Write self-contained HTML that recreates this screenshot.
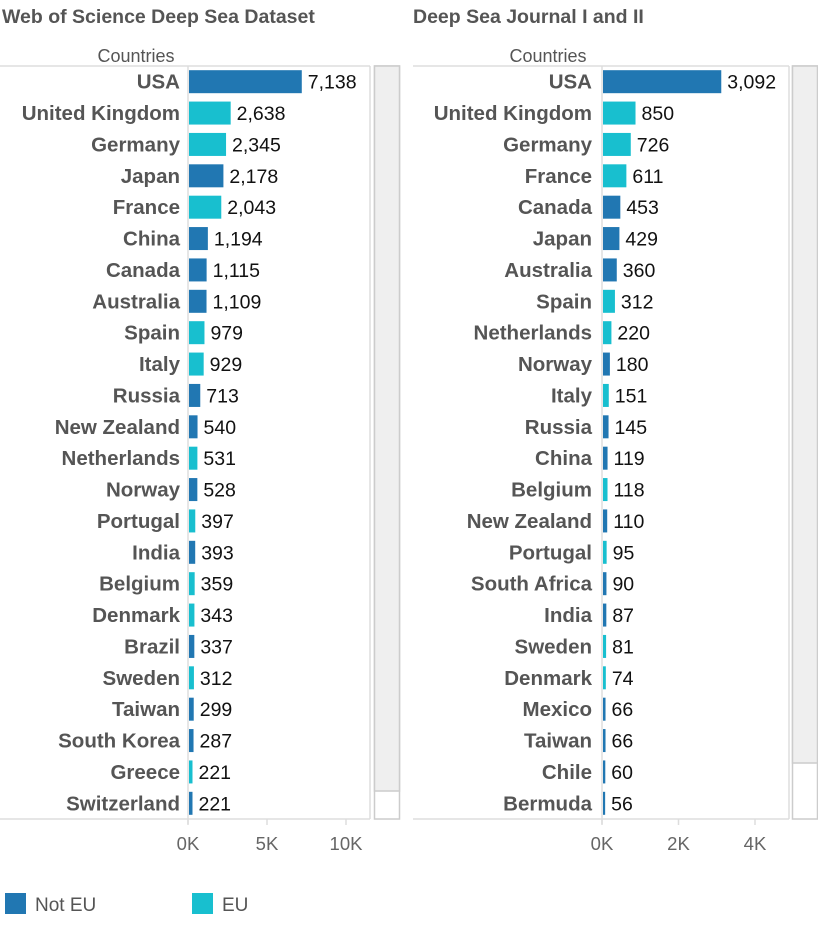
<!DOCTYPE html>
<html><head><meta charset="utf-8"><style>
body{margin:0;background:#fff;width:818px;height:943px;overflow:hidden;font-family:"Liberation Sans",sans-serif}
</style></head><body>
<svg id="c" width="818" height="943" xmlns="http://www.w3.org/2000/svg"></svg>
<script>
const leftCountries=["USA","United Kingdom","Germany","Japan","France","China","Canada","Australia","Spain","Italy","Russia","New Zealand","Netherlands","Norway","Portugal","India","Belgium","Denmark","Brazil","Sweden","Taiwan","South Korea","Greece","Switzerland"];
const leftValues=[7138,2638,2345,2178,2043,1194,1115,1109,979,929,713,540,531,528,397,393,359,343,337,312,299,287,221,221];
const leftEU=[0,1,1,0,1,0,0,0,1,1,0,0,1,0,1,0,1,1,0,1,0,0,1,0];
const leftTicks=[0,5000,10000];
const leftTickLabels=["0K","5K","10K"];
const rightCountries=["USA","United Kingdom","Germany","France","Canada","Japan","Australia","Spain","Netherlands","Norway","Italy","Russia","China","Belgium","New Zealand","Portugal","South Africa","India","Sweden","Denmark","Mexico","Taiwan","Chile","Bermuda"];
const rightValues=[3092,850,726,611,453,429,360,312,220,180,151,145,119,118,110,95,90,87,81,74,66,66,60,56];
const rightEU=[0,1,1,1,0,0,0,1,1,0,1,0,0,1,0,1,0,0,1,1,0,0,0,0];
const rightTicks=[0,2000,4000];
const rightTickLabels=["0K","2K","4K"];

const svg=document.getElementById('c');
const NS='http://www.w3.org/2000/svg';
function el(tag,attrs,parent){const e=document.createElementNS(NS,tag);for(const k in attrs)e.setAttribute(k,attrs[k]);(parent||svg).appendChild(e);return e;}
const C_NOT='#2177b2',C_EU='#18bfcf';
function panel(o){
  const g=el('g',{});
  
  
  const t=el('text',{x:o.titleX,y:23,'font-size':19.5,'font-weight':'bold',fill:'#555'},g);t.textContent=o.title;
  
  
  const h=el('text',{x:o.headX,y:62,'font-size':18,fill:'#555','text-anchor':'middle'},g);h.textContent='Countries';
  
  
  const top=66,bot=819,pitch=(bot-top)/24;
  el('line',{x1:o.x0,y1:top,x2:o.plotR,y2:top,stroke:'#ddd','stroke-width':1.5},g);
  el('line',{x1:o.x0,y1:bot,x2:o.plotR,y2:bot,stroke:'#ddd','stroke-width':1.5},g);
  el('line',{x1:o.plotR,y1:top,x2:o.plotR,y2:bot,stroke:'#ddd','stroke-width':1.5},g);
  el('line',{x1:o.ax,y1:top,x2:o.ax,y2:bot+5,stroke:'#ddd','stroke-width':1.5},g);
  const xs=v=>o.ax+v*o.scale;
  o.cats.forEach((c,i)=>{
    const cy=top+pitch*(i+0.5);
    const l=el('text',{x:o.labelX,y:cy+7,'font-size':20.5,'font-weight':'bold',fill:'#555','text-anchor':'end'},g);l.textContent=c;
    
    
    const w=Math.max(xs(o.vals[i])-o.ax,2);
    const b=el('rect',{x:o.ax+1,y:cy-11.5,width:w,height:23,fill:o.eu[i]?C_EU:C_NOT},g);
    
    
    const v=el('text',{x:o.ax+1+w+6,y:cy+7,'font-size':19.5,fill:'#111'},g);v.textContent=o.vals[i].toLocaleString('en-US');
    
    
  });
  o.ticks.forEach((t,i)=>{
    const x=xs(t);
    el('line',{x1:x,y1:bot,x2:x,y2:bot+6,stroke:'#ddd','stroke-width':1.5},g);
    const tl=el('text',{x:x,y:850,'font-size':18.5,fill:'#666','text-anchor':'middle'},g);tl.textContent=o.tickLabels[i];
    
    
  });
  const sb=el('rect',{x:o.sbX,y:top,width:25,height:bot-top,fill:'#fff',stroke:'#ccc','stroke-width':1.5},g);
  
  
  const th=el('rect',{x:o.sbX,y:top,width:25,height:o.thumbH,fill:'#efefef',stroke:'#ccc','stroke-width':1.5},g);
  
  
}
panel({name:'web-of-science-chart',title:'Web of Science Deep Sea Dataset',titleX:2,headX:136,x0:0,plotR:370,ax:188,scale:158/10000,labelX:180,
  cats:leftCountries,vals:leftValues,eu:leftEU,ticks:leftTicks,tickLabels:leftTickLabels,sbX:374.5,thumbH:725});
panel({name:'deep-sea-journal-chart',title:'Deep Sea Journal I and II',titleX:413,headX:548,x0:413,plotR:789,ax:602,scale:76.5/2000,labelX:592,
  cats:rightCountries,vals:rightValues,eu:rightEU,ticks:rightTicks,tickLabels:rightTickLabels,sbX:792.5,thumbH:697});
const lg=el('g',{});


[['Not EU',C_NOT,5],['EU',C_EU,192]].forEach(([n,c,x])=>{
  const r=el('rect',{x:x,y:893,width:21,height:21,fill:c},lg);
  
  
  const t=el('text',{x:x+30,y:911,'font-size':19,fill:'#555'},lg);t.textContent=n;
  
  
});
</script>
</body></html>
